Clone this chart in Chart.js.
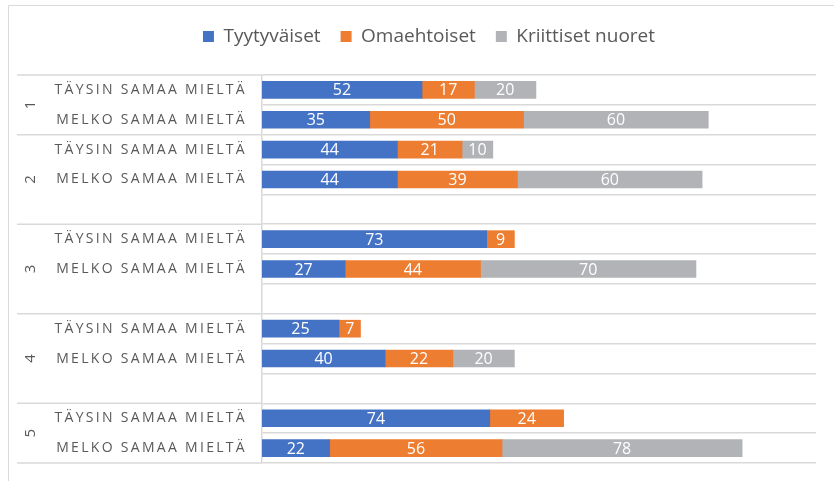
<!DOCTYPE html>
<html>
<head>
<meta charset="utf-8">
<script src="https://cdn.jsdelivr.net/npm/chart.js@4"></script>
<style>
  html, body { margin: 0; padding: 0; background: #fff; }
  #wrap { position: relative; width: 834px; height: 481px; }
</style>
</head>
<body>
<div id="wrap"><canvas id="kaavio"></canvas></div>
<script>
// rivit (tyhjä rivi = väli ryhmien välissä)
const categories = [
  "TÄYSIN SAMAA MIELTÄ", "MELKO SAMAA MIELTÄ",
  "TÄYSIN SAMAA MIELTÄ", "MELKO SAMAA MIELTÄ", "",
  "TÄYSIN SAMAA MIELTÄ", "MELKO SAMAA MIELTÄ", "",
  "TÄYSIN SAMAA MIELTÄ", "MELKO SAMAA MIELTÄ", "",
  "TÄYSIN SAMAA MIELTÄ", "MELKO SAMAA MIELTÄ"
];
const groupLabels = ["1", "2", "3", "4", "5"];
const groupSizes = [2, 3, 3, 3, 2];

const seriesNames = ["Tyytyväiset", "Omaehtoiset", "Kriittiset nuoret"];
const tyytyvaiset = [52, 35, 44, 44, null, 73, 27, null, 25, 40, null, 74, 22];
const omaehtoiset = [17, 50, 21, 39, null, 9, 44, null, 7, 22, null, 24, 56];
const kriittiset  = [20, 60, 10, 60, null, null, 70, null, null, 20, null, null, 78];

const colors = ["#4472C4", "#ED7D31", "#B1B3B6"];
const gridColor = "#D9D9D9";
const textColor = "#595959";

// reunaviivat kuvan ympärillä
const frame = {
  id: "frame",
  beforeDraw(chart) {
    const c = chart.ctx;
    c.save();
    c.strokeStyle = "#D9D9D9";
    c.lineWidth = 1;
    c.beginPath();
    c.moveTo(8.5, 481);
    c.lineTo(8.5, 5.5);
    c.lineTo(834, 5.5);
    c.stroke();
    c.restore();
  }
};

// rivien nimet + ryhmien numerot + ryhmäviivat
const groupAxis = {
  id: "groupAxis",
  afterDraw(chart) {
    const c = chart.ctx;
    const y = chart.scales.y;
    const area = chart.chartArea;
    const half = (y.getPixelForValue(1) - y.getPixelForValue(0)) / 2;
    c.save();
    c.fillStyle = textColor;
    c.font = "14px 'Open Sans'";
    c.letterSpacing = "2.3px";
    c.textAlign = "right";
    c.textBaseline = "middle";
    categories.forEach((lab, i) => {
      if (lab) c.fillText(lab, area.left - 15, y.getPixelForValue(i));
    });
    c.letterSpacing = "0px";
    c.strokeStyle = gridColor;
    c.lineWidth = 1.5;
    let start = 0;
    const top = y.getPixelForValue(0) - half;
    c.beginPath();
    c.moveTo(17, top);
    c.lineTo(area.left, top);
    c.stroke();
    groupSizes.forEach((n, g) => {
      const y0 = y.getPixelForValue(start) - half;
      const y1 = y.getPixelForValue(start + n - 1) + half;
      c.beginPath();
      c.moveTo(17, y1);
      c.lineTo(area.left, y1);
      c.stroke();
      c.save();
      c.translate(31, (y0 + y1) / 2);
      c.rotate(-Math.PI / 2);
      c.textAlign = "center";
      c.font = "15px 'Open Sans'";
      c.fillText(groupLabels[g], 0, 0);
      c.restore();
      start += n;
    });
    c.restore();
  }
};

// arvot palkkien keskelle
const barValues = {
  id: "barValues",
  afterDatasetsDraw(chart) {
    const c = chart.ctx;
    c.save();
    c.fillStyle = "#fff";
    c.font = "16px 'Open Sans'";
    c.textAlign = "center";
    c.textBaseline = "middle";
    chart.data.datasets.forEach((ds, d) => {
      chart.getDatasetMeta(d).data.forEach((bar, i) => {
        const v = ds.data[i];
        if (!v) return;
        c.fillText(String(v), (bar.x + bar.base) / 2, bar.y + 1);
      });
    });
    c.restore();
  }
};

// lisää tilaa selitteen alle ja siirrä selitettä hieman oikealle
const legendGap = {
  id: "legendGap",
  beforeInit(chart) {
    const fit = chart.legend.fit;
    chart.legend.fit = function () {
      fit.bind(chart.legend)();
      this.height += 19;
    };
  },
  afterLayout(chart) {
    chart.legend.left += 42;
  }
};

new Chart(document.getElementById("kaavio"), {
  type: "bar",
  data: {
    labels: categories,
    datasets: [
      { label: seriesNames[0], data: tyytyvaiset, backgroundColor: colors[0] },
      { label: seriesNames[1], data: omaehtoiset, backgroundColor: colors[1] },
      { label: seriesNames[2], data: kriittiset, backgroundColor: colors[2] }
    ]
  },
  options: {
    indexAxis: "y",
    responsive: true,
    maintainAspectRatio: false,
    animation: false,
    barThickness: 17,
    layout: { padding: { top: 7, right: 18, bottom: 18, left: 0 } },
    plugins: {
      legend: {
        position: "top",
        labels: {
          color: textColor,
          font: { family: "'Open Sans'", size: 19 },
          boxWidth: 11,
          boxHeight: 11,
          padding: 20
        }
      },
      tooltip: { enabled: false }
    },
    scales: {
      x: {
        stacked: true,
        min: 0,
        max: 180,
        display: false
      },
      y: {
        stacked: true,
        ticks: { display: false },
        grid: { color: gridColor, lineWidth: 1.5, drawTicks: false },
        border: { color: gridColor, width: 1.5 },
        afterFit(scale) { scale.width = 262; }
      }
    }
  },
  plugins: [frame, groupAxis, barValues, legendGap]
});
</script>
</body>
</html>
